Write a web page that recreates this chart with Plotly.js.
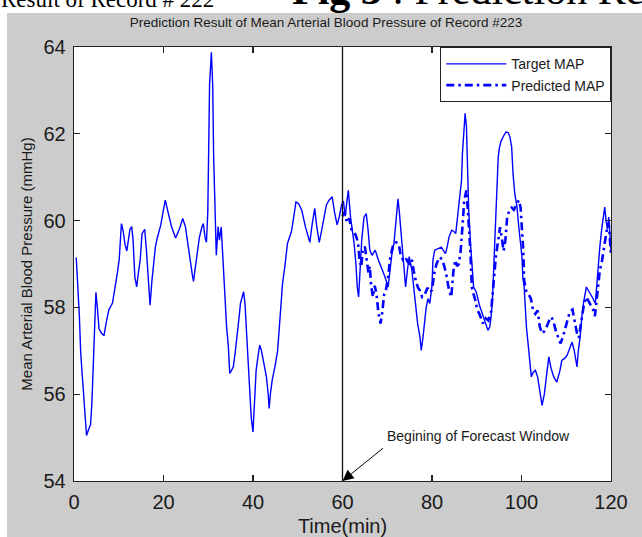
<!DOCTYPE html>
<html><head><meta charset="utf-8">
<script src="https://cdn.plot.ly/plotly-3.0.1.min.js"></script>
<style>html,body{margin:0;padding:0;background:#fff;overflow:hidden}#chart{width:642px;height:537px;overflow:hidden}</style>
</head><body><div id="chart"></div>
<script>
// ---- data ----
const targetTime = [0.5,0.9,1.2,1.5,2.0,2.3,2.8,3.3,3.7,4.0,4.3,4.6,4.9,5.3,5.6,6.2,6.7,7.2,7.8,8.6,9.2,9.7,10.1,10.6,11.0,11.4,11.8,12.2,12.5,12.9,13.2,13.6,14.0,14.4,14.8,15.2,15.8,16.2,16.6,17.0,17.4,17.9,18.2,18.6,19.0,19.4,19.9,20.4,21.0,21.8,22.7,23.6,24.3,24.9,25.4,26.0,26.4,26.7,27.1,27.6,28.0,28.6,28.9,29.3,29.6,29.9,30.1,30.3,30.7,31.0,31.2,31.5,31.8,32.2,32.5,32.9,33.2,33.4,33.7,34.1,34.5,34.8,35.2,35.6,36.0,36.5,36.9,37.2,37.6,37.9,38.2,38.5,38.9,39.3,39.6,40.0,40.4,40.7,41.1,41.5,41.9,42.5,43.0,43.4,43.6,43.9,44.3,44.9,45.5,46.0,46.6,47.1,47.4,47.7,48.1,48.6,49.1,49.6,50.2,50.9,51.7,52.3,52.7,53.2,53.8,54.2,54.8,55.3,55.8,56.4,57.0,57.7,58.2,58.8,59.3,59.8,60.2,60.6,61.0,61.3,61.8,62.2,62.6,63.0,63.3,63.6,64.0,64.3,64.8,65.3,65.7,66.1,66.6,67.3,68.0,68.7,69.5,70.2,70.6,71.0,71.5,72.0,72.4,72.7,73.0,73.4,73.7,74.1,74.5,74.9,75.5,76.0,76.4,76.8,77.3,77.6,78.0,78.4,78.7,79.1,79.5,80.0,80.2,80.6,81.3,82.1,82.6,83.0,83.4,83.8,84.4,84.9,85.3,85.6,86.0,86.3,86.6,86.8,87.1,87.4,87.7,87.9,88.2,88.6,88.9,89.3,89.9,90.3,90.6,91.0,91.5,92.0,92.5,92.9,93.2,93.5,93.8,94.1,94.4,94.8,95.1,95.5,96.0,96.5,97.0,97.4,97.8,98.1,98.5,99.0,99.4,99.8,100.1,100.3,100.6,101.1,101.5,101.8,102.2,102.6,103.1,103.6,104.0,104.6,105.1,105.6,106.1,106.6,107.2,107.9,108.6,109.0,109.7,110.2,110.8,111.3,111.8,112.4,112.7,113.1,113.5,113.9,114.5,115.2,116.0,116.5,116.8,117.1,117.5,117.9,118.3,118.6,118.9,119.2,119.5,119.8,120.0];
const targetMAP = [59.15,58.4,57.8,56.95,56.2,55.75,55.05,55.2,55.3,55.8,56.8,57.8,58.35,57.9,57.5,57.4,57.35,57.65,57.95,58.1,58.45,58.8,59.1,59.93,59.75,59.45,59.3,59.55,59.8,59.86,59.55,58.7,58.47,58.8,59.1,59.7,59.8,59.3,58.7,58.05,58.6,59.1,59.4,59.6,59.75,59.9,60.2,60.47,60.2,59.86,59.6,59.82,60.05,59.86,59.5,59.0,58.78,58.6,58.9,59.2,59.6,59.86,59.93,59.6,59.5,60.2,61.7,63.15,63.88,63.1,61.5,59.93,59.2,59.86,59.55,59.85,59.2,59.05,58.16,57.55,57.09,56.48,56.55,56.63,56.94,57.35,57.78,58.09,58.25,58.36,58.1,57.55,56.94,56.02,55.47,55.13,55.94,56.55,56.86,57.13,57.0,56.7,56.4,56.0,55.67,56.02,56.33,56.63,57.0,57.7,58.55,58.93,59.2,59.47,59.6,59.75,60.08,60.43,60.39,60.24,59.86,59.6,59.5,59.9,60.28,59.9,59.5,59.75,60.0,60.36,60.47,60.55,60.2,59.9,60.1,60.36,60.45,60.1,60.45,60.7,60.08,59.78,59.47,59.0,58.47,58.24,58.9,59.55,60.08,60.16,59.8,59.32,59.2,59.32,59.1,58.93,58.7,58.47,58.8,59.2,59.47,60.0,60.5,60.2,59.8,59.3,58.93,58.47,58.85,59.17,58.86,58.39,58.0,57.62,57.32,57.01,57.32,57.7,58.0,58.2,58.09,58.5,59.08,59.32,59.35,59.39,59.3,59.24,59.4,59.62,59.78,59.75,59.7,60.0,60.3,60.62,60.93,61.55,62.16,62.47,62.16,61.24,60.24,59.47,58.93,58.47,58.35,58.16,58.05,57.93,57.78,57.63,57.47,57.55,57.78,58.16,58.93,59.54,60.47,61.47,61.7,61.85,61.95,62.04,62.03,61.93,61.7,61.09,60.62,60.31,59.85,59.47,59.17,58.7,58.47,57.55,57.09,56.78,56.4,56.5,56.55,56.4,56.09,55.74,56.0,56.48,56.86,56.6,56.4,56.28,56.55,56.78,56.83,56.9,57.09,57.2,57.0,56.63,57.0,57.32,57.8,58.13,58.47,58.35,58.2,58.09,58.5,58.93,59.39,59.78,60.16,60.31,60.0,59.8,60.08,59.6,59.3];
const predictedTime = [60.0,60.5,61.0,61.5,62.0,62.6,63.1,63.5,63.8,64.2,64.5,65.0,65.4,65.8,66.1,66.4,66.8,67.2,67.6,68.0,68.5,68.9,69.3,69.7,70.2,70.6,71.0,71.4,72.0,72.6,73.0,73.5,74.0,74.6,75.1,75.5,75.9,76.4,76.9,77.3,77.8,78.4,79.0,79.6,80.0,80.5,81.0,81.7,82.3,82.8,83.3,83.8,84.3,84.8,85.2,85.6,86.0,86.4,86.8,87.2,87.7,88.0,88.3,88.6,88.9,89.3,89.7,90.1,90.6,91.4,92.0,92.6,93.2,93.8,94.3,94.8,95.2,95.6,96.0,96.4,96.8,97.3,97.8,98.3,98.8,99.4,99.8,100.1,100.4,100.6,101.0,101.6,102.1,102.6,103.1,103.6,104.1,104.6,105.1,105.6,106.2,106.7,107.2,107.7,108.2,108.7,109.2,109.7,110.2,110.8,111.4,111.9,112.4,112.8,113.2,113.6,114.0,114.5,115.0,115.5,116.0,116.4,116.7,117.1,117.5,118.0,118.5,119.0,119.5,120.0];
const predictedMAP = [60.1,60.2,59.95,60.05,59.8,59.75,59.62,59.47,59.1,58.93,59.3,59.4,59.1,58.8,58.95,58.5,58.24,58.5,58.3,57.9,57.63,57.9,58.3,58.4,58.7,59.1,59.3,59.47,59.5,59.45,59.2,59.1,59.16,59.05,59.0,59.1,58.85,58.6,58.45,58.39,58.24,58.3,58.45,58.35,58.4,58.78,59.0,59.16,59.1,58.93,58.7,58.4,58.24,58.85,59.09,58.95,59.0,59.3,59.85,60.47,60.7,60.3,59.78,59.24,58.47,58.3,58.16,57.95,57.85,57.63,57.75,57.7,57.9,58.6,59.2,59.55,59.85,59.6,59.3,59.55,60.08,60.24,60.3,60.25,60.35,60.47,60.3,59.85,59.3,58.62,58.39,58.3,58.2,57.93,57.85,57.93,57.55,57.4,57.45,57.55,57.7,57.78,57.65,57.45,57.3,57.17,57.3,57.5,57.7,57.9,57.95,57.7,57.4,57.3,57.55,57.9,58.1,58.24,58.15,58.05,57.95,57.8,58.1,58.5,58.85,59.08,59.4,59.75,59.95,59.2];
const xTicks = [0,20,40,60,80,100,120];
const yTicks = [54,56,58,60,62,64];
const forecastStart = 60;

const sans = '"Liberation Sans", Arial, sans-serif';
const serif = '"Liberation Serif", "Times New Roman", serif';
const ink = '#1a1a1a';

const traces = [
  {x: targetTime, y: targetMAP, type: 'scatter', mode: 'lines', name: 'Target MAP',
   line: {color: '#0000ff', width: 1.4}},
  {x: predictedTime, y: predictedMAP, type: 'scatter', mode: 'lines', name: 'Predicted MAP',
   line: {color: '#0000ff', width: 2.6, dash: '8px,4px,2.5px,4px'}}
];

const W = 537, H = 434, L = 74, T = 47;
const px = v => (v - L) / W;         // page px -> paper x
const py = v => (T + H - v) / H;     // page px -> paper y

const axisCommon = {
  showgrid: false, zeroline: false, showline: true, linecolor: '#222', linewidth: 1.3,
  mirror: 'allticks', ticks: 'inside', ticklen: 6, tickwidth: 1.3, tickcolor: '#222',
  tickfont: {family: sans, size: 20, color: ink}, fixedrange: true
};

const layout = {
  width: 642, height: 537,
  margin: {l: L, r: 642 - L - W, t: T, b: 537 - T - H},
  paper_bgcolor: '#cccccc', plot_bgcolor: '#ffffff',
  showlegend: true,
  legend: {x: 1, xanchor: 'right', y: 1, yanchor: 'top', bgcolor: '#ffffff',
    bordercolor: '#222', borderwidth: 1.3, font: {family: sans, size: 14, color: ink},
    itemwidth: 60, traceorder: 'normal'},
  title: {text: 'Prediction Result of Mean Arterial Blood Pressure of Record #223',
    font: {family: sans, size: 13.5, color: ink}, xref: 'container', x: 326/642,
    yref: 'container', y: 1 - 22/537, xanchor: 'center', yanchor: 'middle'},
  xaxis: Object.assign({}, axisCommon, {range: [0, 120], tickvals: xTicks, ticktext: xTicks.map(String),
    ticklabelstandoff: 3,
    title: {text: 'Time(min)', font: {family: sans, size: 20, color: ink}, standoff: 14}}),
  yaxis: Object.assign({}, axisCommon, {range: [54, 64], tickvals: yTicks, ticktext: yTicks.map(String),
    ticklabelstandoff: 3,
    title: {text: 'Mean Arterial Blood Pressure (mmHg)', font: {family: sans, size: 15, color: ink}, standoff: 7}}),
  shapes: [
    {type: 'rect', xref: 'paper', yref: 'paper', x0: -0.3, x1: 1.3, y0: py(13), y1: 1.3,
     fillcolor: '#ffffff', line: {width: 0}, layer: 'below'},
    {type: 'rect', xref: 'paper', yref: 'paper', x0: -0.3, x1: px(7), y0: -0.3, y1: 1.3,
     fillcolor: '#ffffff', line: {width: 0}, layer: 'below'},
    {type: 'line', xref: 'x', yref: 'y', x0: forecastStart, x1: forecastStart, y0: 54, y1: 64,
     line: {color: '#111', width: 1.3}}
  ],
  annotations: [
    {text: 'Begining of Forecast Window', xref: 'x', yref: 'y', x: 69.4, y: 55.03,
     xanchor: 'left', yanchor: 'middle', showarrow: false, font: {family: sans, size: 14, color: ink}},
    {text: '', xref: 'x', yref: 'y', x: forecastStart, y: 54, ax: 42, ay: -34, showarrow: true,
     arrowhead: 2, arrowsize: 2.2, arrowwidth: 1, arrowcolor: '#000'},
    {text: 'Result of Record # 222', xref: 'paper', yref: 'paper', x: px(-1), y: py(-0.5),
     xanchor: 'left', yanchor: 'middle', showarrow: false, font: {family: serif, size: 23, color: '#000'}},
    {text: '<b>Fig 3</b> : Prediction Result of Record # 223', xref: 'paper', yref: 'paper', x: px(290), y: py(-10),
     xanchor: 'left', yanchor: 'middle', showarrow: false, font: {family: serif, size: 42, color: '#000'}}
  ]
};

Plotly.newPlot('chart', traces, layout, {displayModeBar: false, staticPlot: true});
</script></body></html>
